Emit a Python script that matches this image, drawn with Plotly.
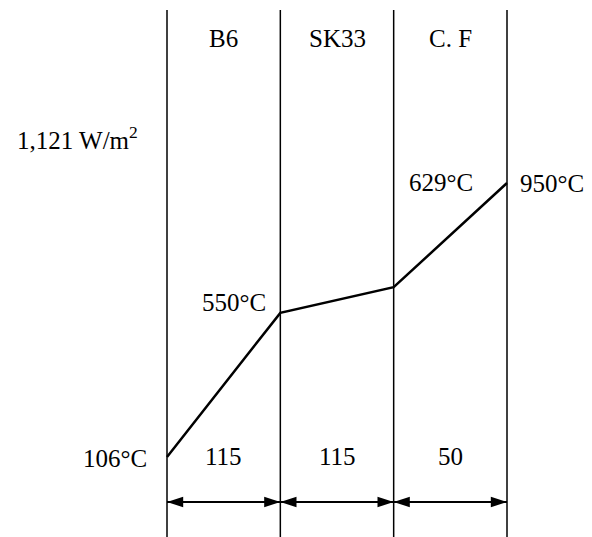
import plotly.graph_objects as go

# Wall layers (hot face on the right) and measured quantities
layers = ["B6", "SK33", "C. F"]
thickness_mm = [115, 115, 50]
interface_temps = [106, 550, 629, 950]   # °C, cold face -> hot face
heat_flux = "1,121"                      # W/m²

FONT = dict(family="Liberation Serif, Times New Roman, serif", size=25, color="black")
W, H = 592, 537

# y-range: cold-face temperature sits at 457 px, hot face at 183 px (from top)
t_lo, t_hi = min(interface_temps), max(interface_temps)
per_px = (t_hi - t_lo) / (457 - 183)
y_range = [t_lo - (H - 457) * per_px, t_hi + 183 * per_px]

# x-range: interface index 0 at 167 px, index 3 at 507 px
n = len(layers)
x_per_px = n / (507 - 167)
x_range = [-167 * x_per_px, (W - 167) * x_per_px]

idx = list(range(n + 1))

fig = go.Figure()

# temperature profile through the wall
fig.add_trace(go.Scatter(
    x=idx, y=interface_temps, mode="lines",
    line=dict(color="black", width=2.5), hoverinfo="skip", showlegend=False,
))

# dimension arrows under each layer (double-headed)
dim_y = y_range[1] - 502 * per_px
for i in range(n):
    fig.add_trace(go.Scatter(
        x=[i, i + 1], y=[dim_y, dim_y], mode="lines+markers",
        line=dict(color="black", width=1.8),
        marker=dict(symbol="arrow", size=17, angle=[-90, 90], color="black",
                    line=dict(width=0)),
        hoverinfo="skip", showlegend=False, cliponaxis=False,
    ))

# layer boundaries
top = 1 - 10 / H
for i in idx:
    fig.add_shape(type="line", xref="x", yref="paper", x0=i, x1=i, y0=0, y1=top,
                  line=dict(color="black", width=1.5))

ann = []
# layer names
for i, name in enumerate(layers):
    ann.append(dict(x=i + 0.5, y=1 - 39 / H, xref="x", yref="paper", text=name,
                    showarrow=False, xanchor="center", yanchor="middle", font=FONT))
# layer thicknesses
for i, t in enumerate(thickness_mm):
    ann.append(dict(x=i + 0.5, y=1 - 456 / H, xref="x", yref="paper", text=str(t),
                    showarrow=False, xanchor="center", yanchor="middle", font=FONT))

# interface temperatures
T = interface_temps
ann.append(dict(x=0, y=T[0], xref="x", yref="y", text=f"{T[0]}°C", showarrow=False,
                xanchor="right", yanchor="middle", xshift=-18, yshift=-1, font=FONT))
ann.append(dict(x=1, y=T[1], xref="x", yref="y", text=f"{T[1]}°C", showarrow=False,
                xanchor="right", yanchor="middle", xshift=-12, yshift=10, font=FONT))
ann.append(dict(x=2, y=1 - 183 / H, xref="x", yref="paper", text=f"{T[2]}°C",
                showarrow=False, xanchor="left", yanchor="middle", xshift=13, font=FONT))
ann.append(dict(x=3, y=T[3], xref="x", yref="y", text=f"{T[3]}°C", showarrow=False,
                xanchor="left", yanchor="middle", xshift=11, font=FONT))

# heat flux
ann.append(dict(x=15 / W, y=1 - 138 / H, xref="paper", yref="paper",
                text=f"{heat_flux} W/m<sup>2</sup>", showarrow=False,
                xanchor="left", yanchor="middle", font=FONT))

fig.update_layout(
    width=W, height=H, margin=dict(l=0, r=0, t=0, b=0),
    paper_bgcolor="white", plot_bgcolor="white",
    xaxis=dict(range=x_range, visible=False, fixedrange=True),
    yaxis=dict(range=y_range, visible=False, fixedrange=True),
    annotations=ann, showlegend=False,
)

fig.write_html("out.html")
